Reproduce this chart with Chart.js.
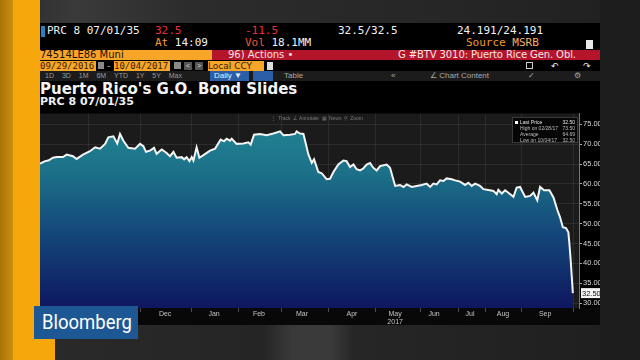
<!DOCTYPE html>
<html><head><meta charset="utf-8">
<script src="https://cdn.jsdelivr.net/npm/chart.js@4/dist/chart.umd.min.js"></script>
<style>
html,body{margin:0;padding:0;}
body{width:640px;height:360px;overflow:hidden;position:relative;background:#242424;font-family:"Liberation Sans",sans-serif;}
.a{position:absolute;white-space:nowrap;}
.m{font-family:"DejaVu Sans Mono",monospace;}
</style></head><body>
<!-- surroundings -->
<div class="a" style="left:0;top:0;width:640px;height:23px;background:linear-gradient(90deg,#2a2a2a 0%,#3a3a3a 12%,#2c2c2c 30%,#262626 70%,#202020 100%)"></div>
<div class="a" style="left:600px;top:0;width:40px;height:360px;background:#1d1d1d"></div>
<div class="a" style="left:40px;top:325px;width:560px;height:35px;background:linear-gradient(90deg,#2a2a2a 0%,#252525 40%,#3a3a3a 45%,#3a3a3a 52%,#262626 56%,#202020 100%)"></div>
<div class="a" style="left:0;top:0;width:13px;height:360px;background:linear-gradient(90deg,#a87206,#c99010)"></div>
<div class="a" style="left:13px;top:0;width:27px;height:360px;background:#f5a70c"></div>
<div class="a" style="left:40px;top:325px;width:15px;height:35px;background:#f5a70c"></div>
<!-- terminal -->
<div class="a" style="left:40px;top:23px;width:560px;height:302px;background:#000"></div>
<div class="a" style="left:41px;top:26px;width:4px;height:11px;background:#2a7fc0"></div>
<div class="a m" style="left:47px;top:24px;font-size:11px;line-height:13px;color:#f2f2f2">PRC 8 07/01/35</div>
<div class="a m" style="left:155px;top:24px;font-size:11px;line-height:13px;color:#ee2e3a">32.5</div>
<div class="a m" style="left:245px;top:24px;font-size:11px;line-height:13px;color:#ee2e3a">-11.5</div>
<div class="a m" style="left:338px;top:24px;font-size:11px;line-height:13px;color:#f2f2f2">32.5/32.5</div>
<div class="a m" style="left:457px;top:24px;font-size:11px;line-height:13px;color:#f2f2f2">24.191/24.191</div>
<div class="a m" style="left:155px;top:37px;font-size:11px;line-height:12px;color:#f2f2f2"><span style="color:#f39a2a">At</span> 14:09</div>
<div class="a m" style="left:245px;top:37px;font-size:11px;line-height:12px;color:#f2f2f2"><span style="color:#ec5a38">Vol</span> 18.1MM</div>
<div class="a m" style="left:466px;top:37px;font-size:11px;line-height:12px;color:#f4b060"><span style="color:#f39a2a">Source</span> MSRB</div>
<div class="a" style="left:586px;top:40px;width:7px;height:9px;background:#e8e8e8"></div>
<!-- row 3 -->
<div class="a" style="left:40px;top:50px;width:172px;height:10px;background:#f7a629"></div>
<div class="a" style="left:212px;top:50px;width:388px;height:10px;background:#b4152b"></div>
<div class="a" style="left:40px;top:49px;font-size:10px;line-height:12px;color:#1a1000;font-family:'DejaVu Sans'">74514LE86 Muni</div>
<div class="a" style="left:228px;top:49px;font-size:10px;line-height:12px;color:#f5e0e0;font-family:'DejaVu Sans'">96) Actions &#8226;</div>
<div class="a" style="left:398px;top:49px;font-size:10px;line-height:12px;color:#f5e6e6;font-family:'DejaVu Sans';letter-spacing:-0.1px">G #BTV 3010: Puerto Rice Gen. Obl.</div>
<!-- row 4 -->
<div class="a m" style="left:40px;top:61px;width:56px;height:10px;background:#f7a629;font-size:9px;line-height:10px;color:#3a1a00">09/29/2016</div>
<div class="a" style="left:98px;top:62px;width:6px;height:7px;background:#8a8a8a"></div>
<div class="a m" style="left:106px;top:61px;font-size:9px;line-height:10px;color:#ccc">-</div>
<div class="a m" style="left:114px;top:61px;width:56px;height:10px;background:#f7a629;font-size:9px;line-height:10px;color:#3a1a00">10/04/2017</div>
<div class="a" style="left:174px;top:62px;width:7px;height:7px;background:#8a8a8a"></div>
<div class="a" style="left:184px;top:62px;width:8px;height:8px;background:#555;color:#ddd;font-size:7px;line-height:8px;text-align:center">&lt;</div>
<div class="a" style="left:195px;top:62px;width:8px;height:8px;background:#555;color:#ddd;font-size:7px;line-height:8px;text-align:center">&gt;</div>
<div class="a" style="left:208px;top:61px;width:56px;height:10px;background:#f7a629;font-size:9px;line-height:10px;color:#3a1a00;font-family:'DejaVu Sans'">Local CCY</div>
<div class="a" style="left:267px;top:62px;width:6px;height:8px;background:#ddd"></div>
<div class="a" style="left:526px;top:62px;width:7px;height:7px;border:1px solid #ccc;box-sizing:border-box"></div>
<div class="a" style="left:551px;top:61px;font-size:9px;line-height:10px;color:#eee">&#8630;</div>
<div class="a" style="left:583px;top:61px;font-size:9px;line-height:10px;color:#eee">&#8631;</div>
<!-- row 5 -->
<div class="a" style="left:40px;top:71px;width:560px;height:10px;background:#1c1c1c"></div>
<div class="a" style="left:45px;top:71px;font-size:7px;line-height:10px;color:#9a9a9a;word-spacing:6px">1D 3D 1M 6M YTD 1Y 5Y Max</div>
<div class="a" style="left:210px;top:71px;width:39px;height:10px;background:#2a5fa8;font-size:8px;line-height:10px;color:#e8eef8;text-indent:4px">Daily &#9660;</div>
<div class="a" style="left:253px;top:71px;width:20px;height:10px;background:#2a5fa8"></div>
<div class="a" style="left:284px;top:71px;font-size:8px;line-height:10px;color:#a8a8a8">Table</div>
<div class="a" style="left:391px;top:71px;font-size:8px;line-height:10px;color:#a8a8a8">&#171;</div>
<div class="a" style="left:430px;top:71px;font-size:8px;line-height:10px;color:#a8a8a8">&#8736; Chart Content</div>
<div class="a" style="left:528px;top:71px;font-size:8px;line-height:10px;color:#a8a8a8">&#10003;</div>
<div class="a" style="left:574px;top:71px;font-size:8px;line-height:10px;color:#a8a8a8">&#9881;</div>
<!-- titles -->
<div class="a" style="left:40px;top:81px;font-family:'DejaVu Sans';font-weight:bold;font-size:15px;line-height:17px;color:#f4f4f4;letter-spacing:0px">Puerto Rico's G.O. Bond Slides</div>
<div class="a" style="left:40px;top:96px;font-family:'DejaVu Sans';font-weight:bold;font-size:11px;line-height:12px;color:#f0f0f0">PRC 8 07/01/35</div>
<!-- chart -->
<div class="a" style="left:40px;top:108px;width:560px;height:217px"><canvas id="c" width="560" height="217"></canvas></div>
<div class="a" style="left:271px;top:115px;font-size:5px;line-height:6px;color:#7a7a7a;word-spacing:1px">&#8942; Track &#8736; Annotate &#9638; News &#9906; Zoom</div>
<div class="a" style="left:512px;top:117px;width:66px;height:26px;background:#060606;border:1px solid #3a3a3a;box-sizing:border-box;font-size:5px;line-height:6px;color:#bdbdbd;padding:1px 2px 0 2px">
  <div style="position:relative;color:#e6e6e6"><span style="display:inline-block;width:3px;height:3px;background:#fff;margin-right:2px"></span>Last Price<span style="position:absolute;right:0">32.50</span></div>
  <div style="position:relative;padding-left:5px">High on 02/28/17<span style="position:absolute;right:0">73.50</span></div>
  <div style="position:relative;padding-left:5px">Average<span style="position:absolute;right:0">64.69</span></div>
  <div style="position:relative;padding-left:5px">Low on 10/04/17<span style="position:absolute;right:0">32.50</span></div>
</div>
<!-- logo -->
<div class="a" style="left:34px;top:306px;width:104px;height:33px;background:#1d5895"></div>
<div class="a" style="left:42px;top:307px;font-family:Roboto,'Liberation Sans';font-size:21px;line-height:30px;color:#fff;transform:scaleX(0.88);transform-origin:0 0">Bloomberg</div>
<script>
// trading-session index (read along the time axis) and price
const sessions = [0,2.4,3.9,6.1,7.8,10.8,12.5,15.5,17.2,20.2,
23.5,25.9,28.2,30.6,32.1,34.5,36.3,37.6,39.2,41.5,
44.7,47.0,48.6,49.8,51.7,53.6,54.8,57.2,59.5,61.1,
62.7,64.2,66.6,67.7,68.9,70.2,71.3,72.1,73.6,74.9,
76.8,79.9,82.3,84.9,86.5,87.7,89.3,90.1,92.4,95.6,
97.9,99.0,100.6,103.4,106.5,109.7,112.8,114.4,117.5,119.9,
120.6,122.2,123.8,126.1,127.7,128.8,130.8,132.4,134.7,136.3,
137.9,140.2,142.6,144.1,145.7,147.3,148.8,150.4,151.9,153.5,
155.1,156.6,158.2,159.8,162.9,164.5,166.9,169.2,170.8,172.3,
174.7,177.0,179.4,181.7,183.3,184.9,186.4,188.0,189.6,191.1,
193.5,195.1,197.4,199.8,201.3,202.9,204.5,206.8,208.4,210.7,
213.1,214.6,215.4,217.0,218.6,220.1,222.5,224.0,225.6,228.0,
230.3,231.9,233.7,235.0,236.9,239.4,241.3,243.1,244.4,245.7,
247.2,248.3,248.8,249.4,249.9,250.4];
const prices = [65.1,65.75,65.9,66.6,66.8,66.8,67.4,67.0,66.3,67.4,
68.25,69.25,68.9,70.1,71.75,72.0,70.2,72.6,70.9,69.1,
68.9,70.1,69.5,68.1,68.4,69.1,67.6,68.7,67.8,67.0,
68.1,66.6,66.75,66.2,66.75,65.75,66.75,65.9,69.25,66.6,
67.25,68.4,68.9,71.2,70.75,71.4,70.9,71.4,70.1,70.2,
70.5,69.9,72.4,72.6,72.25,72.7,73.25,72.25,72.4,72.6,
73.25,72.7,72.6,67.5,65.3,66.2,63.0,62.7,61.2,61.3,
63.0,64.9,65.9,65.75,64.25,64.9,63.7,63.4,63.9,64.9,
65.3,64.1,63.4,64.5,64.9,64.1,59.5,59.75,59.25,59.9,
59.25,59.5,59.75,60.1,59.25,60.1,59.9,60.9,60.75,61.4,
61.2,60.9,60.6,59.75,60.3,59.5,60.1,59.5,58.7,58.5,
58.25,57.4,58.5,57.6,58.4,57.8,56.75,59.1,59.25,56.75,
57.0,57.8,55.9,59.25,58.4,58.4,56.6,53.5,51.6,49.1,
48.9,47.8,44.9,40.75,36.6,32.5];
const monthLabels = ['Oct','Nov','Dec','Jan','Feb','Mar','Apr','May','Jun','Jul','Aug','Sep'];
const monthLabelAt = [11.3,34.8,58.8,81.8,102.9,123.1,146.6,166.9,185.2,202.1,217.6,237.4];
const monthStartAt = [22.6,47.0,71.0,93.1,113.3,135.8,157.9,178.6,196.9,209.2,226.5,250.5];
const yearLabel = '2017';
const yTicks = [30,35,40,45,50,55,60,65,70,75];
const xMin = 0, xMax = 253.3, yMin = 28.75, yMax = 77.75;

const last = prices[prices.length-1];

const bgPlugin = {
  id:'bg',
  beforeDraw(chart){
    const {ctx, chartArea:a} = chart;
    ctx.save();
    ctx.fillStyle = '#080808';
    ctx.fillRect(0, a.bottom, chart.width, chart.height - a.bottom);
    ctx.fillStyle = '#1b1b1b';
    ctx.fillRect(a.left, a.top, a.right - a.left, a.bottom - a.top);
    ctx.restore();
  },
  afterDraw(chart){
    const {ctx, chartArea:a, scales} = chart;
    const y = scales.y.getPixelForValue(last);
    ctx.save();
    ctx.fillStyle = '#f4f4f4';
    ctx.fillRect(a.right + 2, y - 5, 19, 10);
    ctx.fillStyle = '#111';
    ctx.font = '7.5px "Liberation Sans"';
    ctx.textBaseline = 'middle';
    ctx.fillText(last.toFixed(2), a.right + 3, y + 0.5);
    ctx.restore();
  }
};

new Chart(document.getElementById('c'), {
  type:'line',
  data:{datasets:[{
    data: sessions.map((s,i)=>({x:s, y:prices[i]})),
    borderColor:'#f4f4f4',
    borderWidth:2,
    pointRadius:0,
    tension:0,
    fill:'start',
    backgroundColor:(c)=>{
      const a = c.chart.chartArea;
      if(!a) return '#1a6a86';
      const g = c.chart.ctx.createLinearGradient(0, a.top, 0, a.bottom);
      g.addColorStop(0,'#238797');
      g.addColorStop(0.3,'#1c7188');
      g.addColorStop(0.6,'#14497a');
      g.addColorStop(1,'#0e1760');
      return g;
    }
  }]},
  options:{
    responsive:false, animation:false,
    layout:{padding:{top:4,left:0,right:0,bottom:0}},
    plugins:{legend:{display:false}, tooltip:{enabled:false}},
    scales:{
      xb:{
        type:'linear', position:'bottom', min:xMin, max:xMax, weight:0,
        afterBuildTicks:(s)=>{ s.ticks = monthStartAt.map(v=>({value:v})); },
        afterFit:(s)=>{ s.height = 0; },
        ticks:{display:false},
        border:{display:false},
        grid:{color:'rgba(255,255,255,0.07)', lineWidth:1, drawTicks:true, tickLength:4, tickColor:'#4a4a4a'}
      },
      x:{
        type:'linear', position:'bottom', min:xMin, max:xMax, weight:1,
        afterBuildTicks:(s)=>{ s.ticks = monthLabelAt.map(v=>({value:v})); },
        afterFit:(s)=>{ s.height = 17; },
        border:{display:false},
        grid:{display:false, drawTicks:false},
        ticks:{autoSkip:false, maxRotation:0, padding:2, color:'#c4c4c4',
          font:{family:'Liberation Sans', size:7, lineHeight:1.15},
          callback:(v,i)=> monthLabels[i]==='May' ? ['May', yearLabel] : monthLabels[i]}
      },
      y:{
        type:'linear', position:'right', min:yMin, max:yMax,
        afterBuildTicks:(s)=>{ s.ticks = yTicks.map(v=>({value:v})); },
        afterFit:(s)=>{ s.width = 21; },
        border:{display:true, color:'#777', width:1},
        grid:{color:'rgba(255,255,255,0.08)', drawTicks:true, tickLength:3, tickColor:'#aaa'},
        ticks:{padding:1, color:'#d6d6d6', font:{family:'Liberation Sans', size:7.5},
          callback:(v)=> Number(v).toFixed(2)}
      }
    }
  },
  plugins:[bgPlugin]
});
</script>
</body></html>
